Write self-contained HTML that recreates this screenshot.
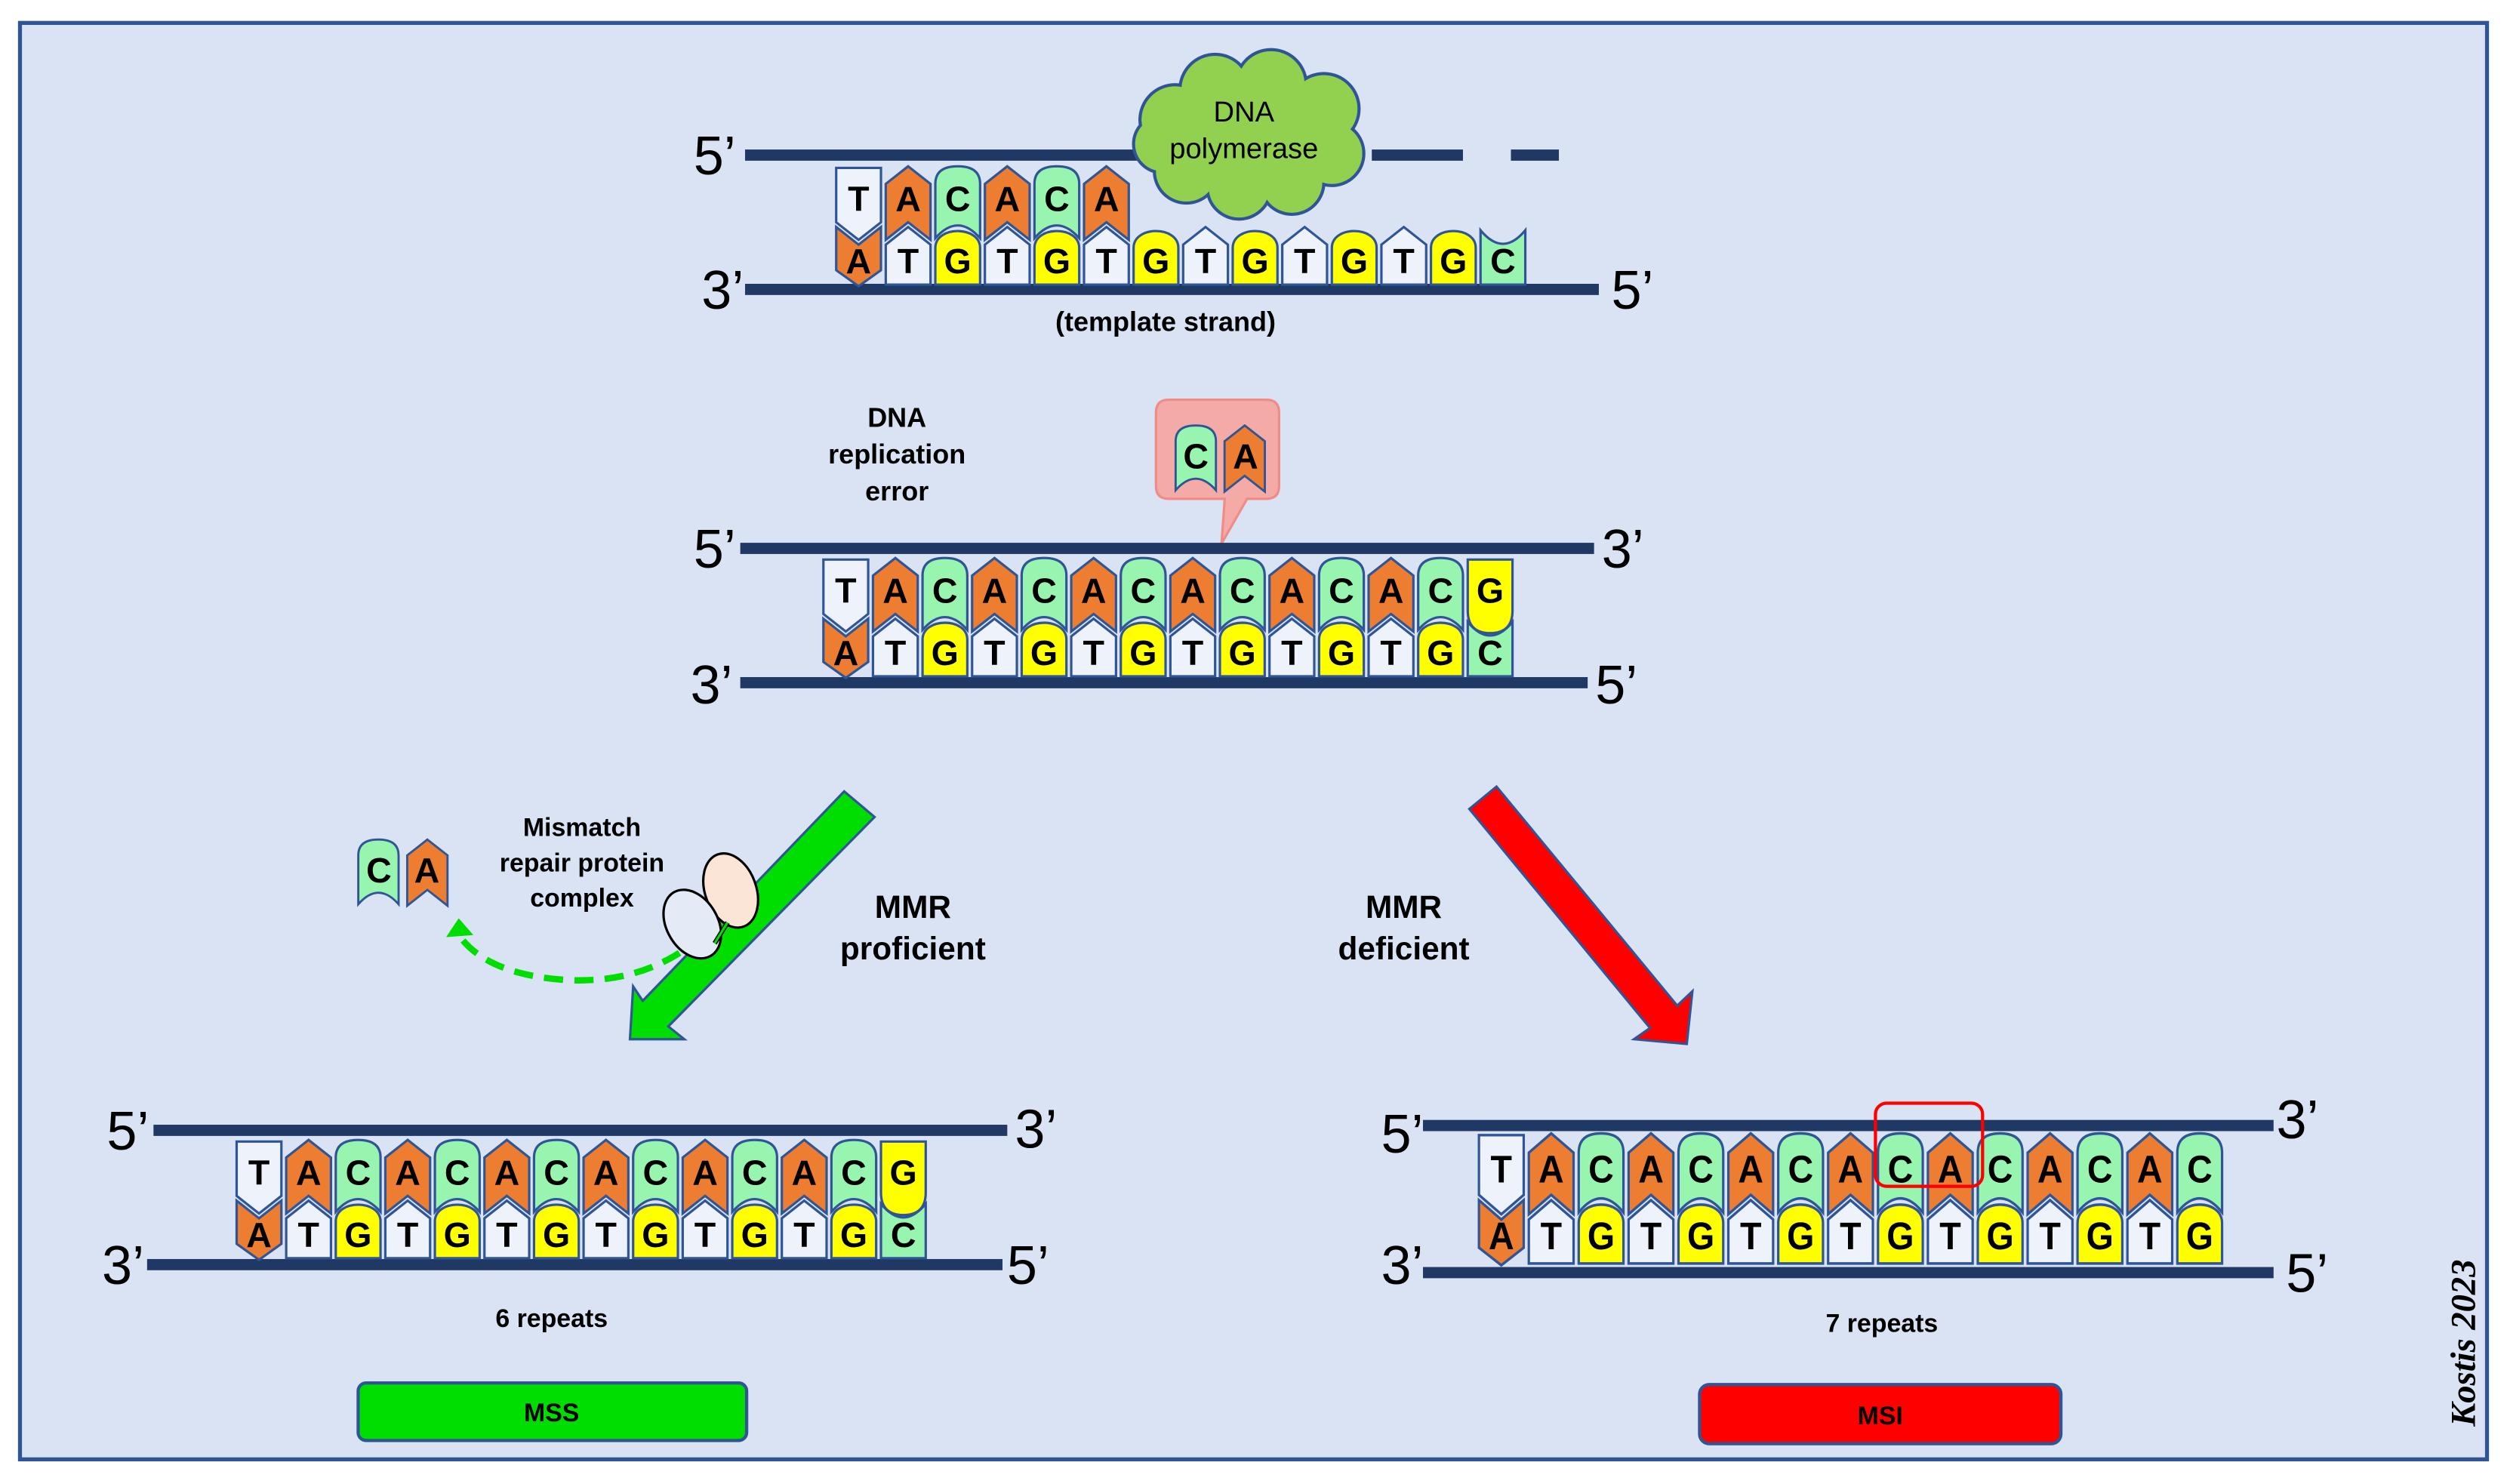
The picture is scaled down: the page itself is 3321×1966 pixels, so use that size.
<!DOCTYPE html>
<html><head><meta charset="utf-8"><style>
html,body{margin:0;padding:0;background:#fff;}
svg{display:block;}
.lt{font-family:"Liberation Sans",Arial,sans-serif;font-weight:bold;font-size:22px;text-anchor:middle;fill:#000;}
.pr{font-family:"Liberation Sans",Arial,sans-serif;font-size:34px;text-anchor:middle;fill:#000;}
.lb{font-family:"Liberation Sans",Arial,sans-serif;font-weight:bold;text-anchor:middle;fill:#000;}
</style></head><body>
<svg width="3321" height="1966" viewBox="0 0 1568 928.2" xmlns="http://www.w3.org/2000/svg">
<defs>
<g id="tT"><path d="M-14,-40 H14 V-6 L0,5 L-14,-6 Z" fill="#eef2fa" stroke="#2f5597" stroke-width="1.5"/></g>
<g id="tA"><path d="M0,-41 L14,-30 V5 L0,-6 L-14,5 V-30 Z" fill="#ed7d31" stroke="#2f5597" stroke-width="1.5"/></g>
<g id="tC"><path d="M-14,-30 Q-14,-41 0,-41 Q14,-41 14,-30 V4 Q0,-12 -14,4 Z" fill="#98f5b0" stroke="#2f5597" stroke-width="1.5"/></g>
<g id="tG"><path d="M-14,-40 H14 V-8 Q14,6 0,6 Q-14,6 -14,-8 Z" fill="#ffff00" stroke="#2f5597" stroke-width="1.5"/></g>
<g id="bA"><path d="M-14,-3 L0,8 L14,-3 V24 L0,34 L-14,24 Z" fill="#ed7d31" stroke="#2f5597" stroke-width="1.5"/></g>
<g id="bT"><path d="M0,-3 L14,8 V33 H-14 V8 Z" fill="#eef2fa" stroke="#2f5597" stroke-width="1.5"/></g>
<g id="bG"><path d="M-14,33 V10 C-14,-4 14,-4 14,10 V33 Z" fill="#ffff00" stroke="#2f5597" stroke-width="1.5"/></g>
<g id="bC"><path d="M-14,-1 Q0,16 14,-1 V33 H-14 Z" fill="#98f5b0" stroke="#2f5597" stroke-width="1.5"/></g>
</defs>

<rect x="0" y="0" width="1568" height="928.2" fill="#fff"/>
<rect x="12.5" y="14.3" width="1543" height="898.5" fill="#dae3f3" stroke="#2f5597" stroke-width="2.5"/>

<!-- TOP PANEL -->
<rect x="466" y="93.5" width="372" height="7" fill="#1f3864"/>
<rect x="858" y="93.5" width="57" height="7" fill="#1f3864"/>
<rect x="945" y="93.5" width="30" height="7" fill="#1f3864"/>
<rect x="466" y="177.5" width="534" height="7" fill="#1f3864"/>
<g transform="translate(0,145)">
<use href="#tT" x="537"/><use href="#tA" x="568"/><use href="#tC" x="599"/><use href="#tA" x="630"/><use href="#tC" x="661"/><use href="#tA" x="692"/>
<use href="#bA" x="537"/><use href="#bT" x="568"/><use href="#bG" x="599"/><use href="#bT" x="630"/><use href="#bG" x="661"/><use href="#bT" x="692"/><use href="#bG" x="723"/><use href="#bT" x="754"/><use href="#bG" x="785"/><use href="#bT" x="816"/><use href="#bG" x="847"/><use href="#bT" x="878"/><use href="#bG" x="909"/><use href="#bC" x="940"/>
<text class="lt" x="537 568 599 630 661 692" y="-13">TACACA</text>
<text class="lt" x="537 568 599 630 661 692 723 754 785 816 847 878 909 940" y="26">ATGTGTGTGTGTGC</text>
</g>
<!-- cloud -->
<g fill="#92d050" stroke="#2f5597" stroke-width="2">
<circle cx="735" cy="75" r="22"/><circle cx="760" cy="56" r="22"/><circle cx="795" cy="53" r="22"/><circle cx="828" cy="68" r="22"/><circle cx="833" cy="96" r="20"/><circle cx="808" cy="114" r="20"/><circle cx="775" cy="117" r="20"/><circle cx="742" cy="107" r="20"/><circle cx="727" cy="90" r="18"/>
</g>
<g fill="#92d050">
<circle cx="735" cy="75" r="21"/><circle cx="760" cy="56" r="21"/><circle cx="795" cy="53" r="21"/><circle cx="828" cy="68" r="21"/><circle cx="833" cy="96" r="19"/><circle cx="808" cy="114" r="19"/><circle cx="775" cy="117" r="19"/><circle cx="742" cy="107" r="19"/><circle cx="727" cy="90" r="17"/><ellipse cx="780" cy="86" rx="50" ry="36"/>
</g>
<text x="778" y="76" font-family="Liberation Sans, Arial, sans-serif" font-size="18" text-anchor="middle">DNA</text>
<text x="778" y="99" font-family="Liberation Sans, Arial, sans-serif" font-size="18" text-anchor="middle">polymerase</text>
<text class="pr" x="447" y="109">5’</text>
<text class="pr" x="452" y="193">3’</text>
<text class="pr" x="1021" y="193">5’</text>
<text class="lb" x="729" y="207" font-size="17">(template strand)</text>

<!-- MIDDLE PANEL -->
<text class="lb" font-size="17" x="561" y="267">DNA</text>
<text class="lb" font-size="17" x="561" y="290">replication</text>
<text class="lb" font-size="17" x="561" y="313">error</text>
<path d="M731,250 H792 Q800,250 800,258 V304 Q800,312 792,312 H780 L764,340 L766,312 H731 Q723,312 723,304 V258 Q723,250 731,250 Z" fill="#f4aaa6" stroke="#f08c88" stroke-width="1.5"/>
<g transform="translate(0,303) scale(0.9)">
<use href="#tC" x="831"/><use href="#tA" x="865"/>
</g>
<text class="lt" x="748 779" y="293">CA</text>

<rect x="463" y="339.5" width="534" height="7" fill="#1f3864"/>
<rect x="463" y="423.5" width="530" height="7" fill="#1f3864"/>
<g transform="translate(0,390)">
<use href="#tT" x="529"/><use href="#tA" x="560"/><use href="#tC" x="591"/><use href="#tA" x="622"/><use href="#tC" x="653"/><use href="#tA" x="684"/><use href="#tC" x="715"/><use href="#tA" x="746"/><use href="#tC" x="777"/><use href="#tA" x="808"/><use href="#tC" x="839"/><use href="#tA" x="870"/><use href="#tC" x="901"/><use href="#tG" x="932"/>
<use href="#bA" x="529"/><use href="#bT" x="560"/><use href="#bG" x="591"/><use href="#bT" x="622"/><use href="#bG" x="653"/><use href="#bT" x="684"/><use href="#bG" x="715"/><use href="#bT" x="746"/><use href="#bG" x="777"/><use href="#bT" x="808"/><use href="#bG" x="839"/><use href="#bT" x="870"/><use href="#bG" x="901"/><use href="#bC" x="932"/>
<text class="lt" x="529 560 591 622 653 684 715 746 777 808 839 870 901 932" y="-13">TACACACACACACG</text>
<text class="lt" x="529 560 591 622 653 684 715 746 777 808 839 870 901 932" y="26">ATGTGTGTGTGTGC</text>
</g>
<text class="pr" x="447" y="355">5’</text>
<text class="pr" x="1015" y="355">3’</text>
<text class="pr" x="445" y="440">3’</text>
<text class="pr" x="1011" y="440">5’</text>

<!-- ARROWS -->
<polygon points="528,495 547,511 418,642 428,650 394,650 396,617 402,626" fill="#00dd00" stroke="#2f5597" stroke-width="1.5"/>
<polygon points="936,492 1049,629 1058.5,620 1055,653 1022,650 1032,643 919,506" fill="#ff0000" stroke="#2f5597" stroke-width="1.5"/>
<text class="lb" font-size="20" x="571" y="574">MMR</text>
<text class="lb" font-size="20" x="571" y="600">proficient</text>
<text class="lb" font-size="20" x="878" y="574">MMR</text>
<text class="lb" font-size="20" x="878" y="600">deficient</text>

<!-- MMR complex -->
<text class="lb" font-size="16" x="364" y="523">Mismatch</text>
<text class="lb" font-size="16" x="364" y="545">repair protein</text>
<text class="lb" font-size="16" x="364" y="567">complex</text>
<g transform="translate(0,562) scale(0.9)">
<use href="#tC" x="263"/><use href="#tA" x="297"/>
</g>
<text class="lt" x="237 267" y="552">CA</text>
<path d="M425,596 Q395,615 355,613 Q305,610 287,585" fill="none" stroke="#00dd00" stroke-width="4" stroke-dasharray="12 7"/>
<polygon points="281,585 287,576 294,584" fill="#00dd00" stroke="#00dd00" stroke-width="2"/>
<ellipse cx="457" cy="557" rx="16" ry="24" transform="rotate(-20 457 557)" fill="#fbe5d6" stroke="#000" stroke-width="1.5"/>
<ellipse cx="433" cy="578" rx="16" ry="23" transform="rotate(-30 433 578)" fill="#e4ebf7" stroke="#000" stroke-width="1.5"/>
<path d="M447,590 L455,577" stroke="#000" stroke-width="3"/>
<path d="M447,590 L455,577" stroke="#00dd00" stroke-width="1.5"/>

<!-- LOWER LEFT -->
<rect x="96" y="703.5" width="534" height="7" fill="#1f3864"/>
<rect x="92" y="787.5" width="535" height="7" fill="#1f3864"/>
<g transform="translate(0,754)">
<use href="#tT" x="162"/><use href="#tA" x="193"/><use href="#tC" x="224"/><use href="#tA" x="255"/><use href="#tC" x="286"/><use href="#tA" x="317"/><use href="#tC" x="348"/><use href="#tA" x="379"/><use href="#tC" x="410"/><use href="#tA" x="441"/><use href="#tC" x="472"/><use href="#tA" x="503"/><use href="#tC" x="534"/><use href="#tG" x="565"/>
<use href="#bA" x="162"/><use href="#bT" x="193"/><use href="#bG" x="224"/><use href="#bT" x="255"/><use href="#bG" x="286"/><use href="#bT" x="317"/><use href="#bG" x="348"/><use href="#bT" x="379"/><use href="#bG" x="410"/><use href="#bT" x="441"/><use href="#bG" x="472"/><use href="#bT" x="503"/><use href="#bG" x="534"/><use href="#bC" x="565"/>
<text class="lt" x="162 193 224 255 286 317 348 379 410 441 472 503 534 565" y="-13">TACACACACACACG</text>
<text class="lt" x="162 193 224 255 286 317 348 379 410 441 472 503 534 565" y="26">ATGTGTGTGTGTGC</text>
</g>
<text class="pr" x="80" y="719">5’</text>
<text class="pr" x="648" y="718">3’</text>
<text class="pr" x="77" y="803">3’</text>
<text class="pr" x="643" y="803">5’</text>
<text class="lb" font-size="16" x="345" y="830">6 repeats</text>
<rect x="224" y="865" width="243" height="36" rx="5" fill="#00dd00" stroke="#2f5597" stroke-width="2"/>
<text class="lb" font-size="16" x="345" y="889">MSS</text>

<!-- LOWER RIGHT -->
<rect x="890" y="700.5" width="532" height="7" fill="#1f3864"/>
<rect x="890" y="792.5" width="532" height="7" fill="#1f3864"/>
<g transform="translate(0,754) scale(1,1.1)">
<use href="#tT" x="939"/><use href="#tA" x="970.2"/><use href="#tC" x="1001.4"/><use href="#tA" x="1032.6"/><use href="#tC" x="1063.8"/><use href="#tA" x="1095"/><use href="#tC" x="1126.2"/><use href="#tA" x="1157.4"/><use href="#tC" x="1188.6"/><use href="#tA" x="1219.8"/><use href="#tC" x="1251"/><use href="#tA" x="1282.2"/><use href="#tC" x="1313.4"/><use href="#tA" x="1344.6"/><use href="#tC" x="1375.8"/>
<use href="#bA" x="939"/><use href="#bT" x="970.2"/><use href="#bG" x="1001.4"/><use href="#bT" x="1032.6"/><use href="#bG" x="1063.8"/><use href="#bT" x="1095"/><use href="#bG" x="1126.2"/><use href="#bT" x="1157.4"/><use href="#bG" x="1188.6"/><use href="#bT" x="1219.8"/><use href="#bG" x="1251"/><use href="#bT" x="1282.2"/><use href="#bG" x="1313.4"/><use href="#bT" x="1344.6"/><use href="#bG" x="1375.8"/>
<text class="lt" x="939 970.2 1001.4 1032.6 1063.8 1095 1126.2 1157.4 1188.6 1219.8 1251 1282.2 1313.4 1344.6 1375.8" y="-13">TACACACACACACAC</text>
<text class="lt" x="939 970.2 1001.4 1032.6 1063.8 1095 1126.2 1157.4 1188.6 1219.8 1251 1282.2 1313.4 1344.6 1375.8" y="25">ATGTGTGTGTGTGTG</text>
</g>
<rect x="1173" y="690" width="67" height="52" rx="7" fill="none" stroke="#ff0000" stroke-width="2"/>
<text class="pr" x="877" y="721">5’</text>
<text class="pr" x="1437" y="712">3’</text>
<text class="pr" x="877" y="803">3’</text>
<text class="pr" x="1443" y="808">5’</text>
<text class="lb" font-size="16" x="1177" y="833">7 repeats</text>
<rect x="1063" y="866" width="226" height="37" rx="6" fill="#ff0000" stroke="#2f5597" stroke-width="2"/>
<text class="lb" font-size="16" x="1176" y="891">MSI</text>

<text transform="translate(1548,840) rotate(-90)" font-family="Liberation Serif, serif" font-style="italic" font-weight="bold" font-size="22" text-anchor="middle">Kostis 2023</text>
</svg>
</body></html>
